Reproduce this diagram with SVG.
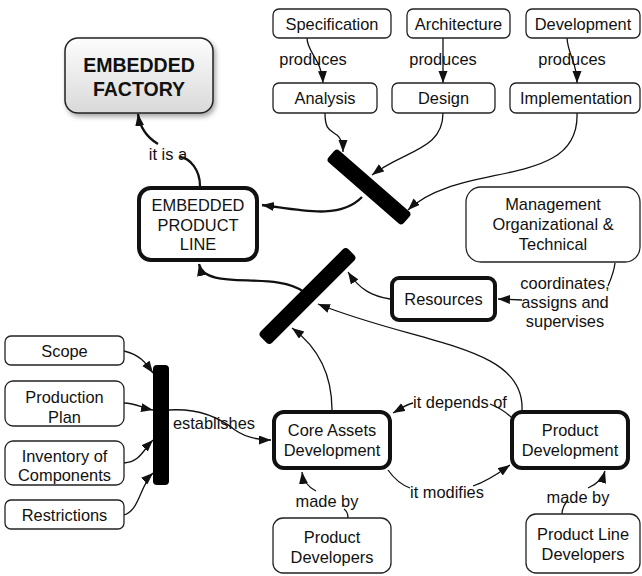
<svg xmlns="http://www.w3.org/2000/svg" width="642" height="576" viewBox="0 0 642 576">
<style>
text{font-family:"Liberation Sans",Arial,sans-serif;font-size:16.4px;fill:#111;text-anchor:middle}
.b{fill:#fff;stroke:#222;stroke-width:1.3}
.t{fill:#fff;stroke:#111;stroke-width:4}
.c{fill:none;stroke:#111;stroke-width:1.3}
.k{fill:none;stroke:#111;stroke-width:2.3}
.bar{fill:#000}
.h{font-weight:bold;font-size:19.5px}
</style>
<defs>
<marker id="a" markerUnits="userSpaceOnUse" markerWidth="13" markerHeight="10" refX="12" refY="4.5" orient="auto"><path d="M0,0 L12,4.5 L0,9 z" fill="#111"/></marker>
<linearGradient id="g" x1="0" y1="0" x2="0" y2="1"><stop offset="0" stop-color="#fdfdfd"/><stop offset="1" stop-color="#d9d9d9"/></linearGradient>
<filter id="s" x="-20%" y="-20%" width="150%" height="160%"><feDropShadow dx="2" dy="3" stdDeviation="2.5" flood-color="#000" flood-opacity="0.35"/></filter>
</defs>
<g id="connectors">
<path class="k" d="M200 186 C200 170 190 158 180 157" />
<path class="k" d="M158 144 C148 138 140 128 138 114" marker-end="url(#a)"/>
<path class="c" d="M307 38 C307 52 322 60 323 83" marker-end="url(#a)"/>
<path class="c" d="M443 38 L443 83" marker-end="url(#a)"/>
<path class="c" d="M567 38 C568 55 577 62 577 83" marker-end="url(#a)"/>
<path class="c" d="M325 113 C325 130 330 130 337 135 C342 139 343 145 343 152" marker-end="url(#a)"/>
<path class="c" d="M443 113 C443 150 405 150 372 175" marker-end="url(#a)"/>
<path class="c" d="M577 113 C580 190 460 160 408 210" marker-end="url(#a)"/>
<path class="k" d="M362 197 C340 220 300 210 262 205" marker-end="url(#a)"/>
<path class="k" d="M304 292 C275 270 205 292 199 264" marker-end="url(#a)"/>
<path class="c" d="M390 299 C372 296 360 290 348 272" marker-end="url(#a)"/>
<path class="c" d="M522 410 C525 345 420 345 318 304" marker-end="url(#a)"/>
<path class="c" d="M332 410 C332 370 315 345 292 328" marker-end="url(#a)"/>
<path class="c" d="M615 263 C614 272 611 279 608 286" />
<path class="c" d="M522 300 L498 299" marker-end="url(#a)"/>
<path class="c" d="M124 351 C140 355 145 362 153 373" marker-end="url(#a)"/>
<path class="c" d="M124 403 C135 403 143 408 153 410" marker-end="url(#a)"/>
<path class="c" d="M124 463 C140 462 143 450 153 440" marker-end="url(#a)"/>
<path class="c" d="M124 515 C140 510 140 485 153 473" marker-end="url(#a)"/>
<path class="c" d="M169 410 C200 408 220 418 235 430 C245 437 255 440 271 440" marker-end="url(#a)"/>
<path class="c" d="M413 403 C405 405 400 409 393 413" marker-end="url(#a)"/>
<path class="c" d="M490 404 C500 408 506 412 512 418" />
<path class="c" d="M388 470 C395 480 402 485 410 488" />
<path class="c" d="M473 486 C490 480 500 472 510 465" marker-end="url(#a)"/>
<path class="c" d="M316 491 C308 487 303 480 302 472" marker-end="url(#a)"/>
<path class="c" d="M344 509 C347 511 348 514 348 518" />
<path class="c" d="M588 488 C597 484 603 478 605 471" marker-end="url(#a)"/>
<path class="c" d="M567 501 C564 505 562 509 562 514" />
</g>
<g id="bars">
<rect class="bar" x="-50" y="-8" width="100" height="16" rx="4" transform="translate(369,187) rotate(41)"/>
<rect class="bar" x="-62" y="-8" width="124" height="16" rx="4" transform="translate(307.5,296) rotate(-45)"/>
<rect class="bar" x="153" y="365" width="16" height="120" rx="4"/>
</g>
<g id="embedded-factory">
<rect x="65" y="38" width="148" height="75" rx="13" fill="url(#g)" stroke="#222" stroke-width="1.5" filter="url(#s)"/>
<text class="h" x="139" y="72">EMBEDDED</text>
<text class="h" x="139" y="96">FACTORY</text>
</g>
<g id="embedded-product-line">
<rect class="t" x="139" y="188" width="118" height="72" rx="12"/>
<text x="198" y="211">EMBEDDED</text>
<text x="198" y="231">PRODUCT</text>
<text x="198" y="250">LINE</text>
</g>
<g id="specification"><rect class="b" x="273" y="9" width="118" height="29" rx="6"/><text x="332" y="30">Specification</text></g>
<g id="architecture"><rect class="b" x="407" y="9" width="103" height="29" rx="6"/><text x="458.5" y="30">Architecture</text></g>
<g id="development"><rect class="b" x="526" y="9" width="114" height="29" rx="6"/><text x="583" y="30">Development</text></g>
<g id="analysis"><rect class="b" x="273" y="83" width="104" height="30" rx="6"/><text x="325" y="104">Analysis</text></g>
<g id="design"><rect class="b" x="392" y="83" width="103" height="30" rx="6"/><text x="443.5" y="104">Design</text></g>
<g id="implementation"><rect class="b" x="510" y="83" width="130" height="30" rx="6"/><text x="576" y="104">Implementation</text></g>
<g id="management"><rect class="b" x="466" y="187" width="174" height="75" rx="15"/><text x="553" y="210">Management</text><text x="553" y="230">Organizational &amp;</text><text x="553" y="250">Technical</text></g>
<g id="resources"><rect class="t" x="392" y="278" width="103" height="42" rx="7"/><text x="443.5" y="305">Resources</text></g>
<g id="scope"><rect class="b" x="5" y="336" width="119" height="29" rx="6"/><text x="64.5" y="357">Scope</text></g>
<g id="production-plan"><rect class="b" x="5" y="381" width="119" height="45" rx="8"/><text x="64.5" y="403">Production</text><text x="64.5" y="423">Plan</text></g>
<g id="inventory"><rect class="b" x="5" y="441" width="119" height="44" rx="8"/><text x="64.5" y="462">Inventory of</text><text x="64.5" y="481">Components</text></g>
<g id="restrictions"><rect class="b" x="5" y="500" width="119" height="29" rx="6"/><text x="64.5" y="521">Restrictions</text></g>
<g id="core-assets"><rect class="t" x="274" y="412" width="116" height="56" rx="10"/><text x="332" y="436">Core Assets</text><text x="332" y="456">Development</text></g>
<g id="product-development"><rect class="t" x="512" y="412" width="116" height="56" rx="10"/><text x="570" y="436">Product</text><text x="570" y="456">Development</text></g>
<g id="product-developers"><rect class="b" x="273" y="518" width="118" height="55" rx="10"/><text x="332" y="543">Product</text><text x="332" y="563">Developers</text></g>
<g id="product-line-developers"><rect class="b" x="526" y="514" width="114" height="59" rx="10"/><text x="583" y="540">Product Line</text><text x="583" y="560">Developers</text></g>
<g id="labels">
<text x="168" y="160">it is a</text>
<text x="313" y="65">produces</text>
<text x="443" y="65">produces</text>
<text x="572" y="65">produces</text>
<text x="565" y="289">coordinates,</text>
<text x="565" y="308">assigns and</text>
<text x="565" y="327">supervises</text>
<text x="214" y="429">establishes</text>
<text x="460" y="408">it depends of</text>
<text x="447" y="498">it modifies</text>
<text x="327" y="507">made by</text>
<text x="578" y="503">made by</text>
</g>
</svg>
